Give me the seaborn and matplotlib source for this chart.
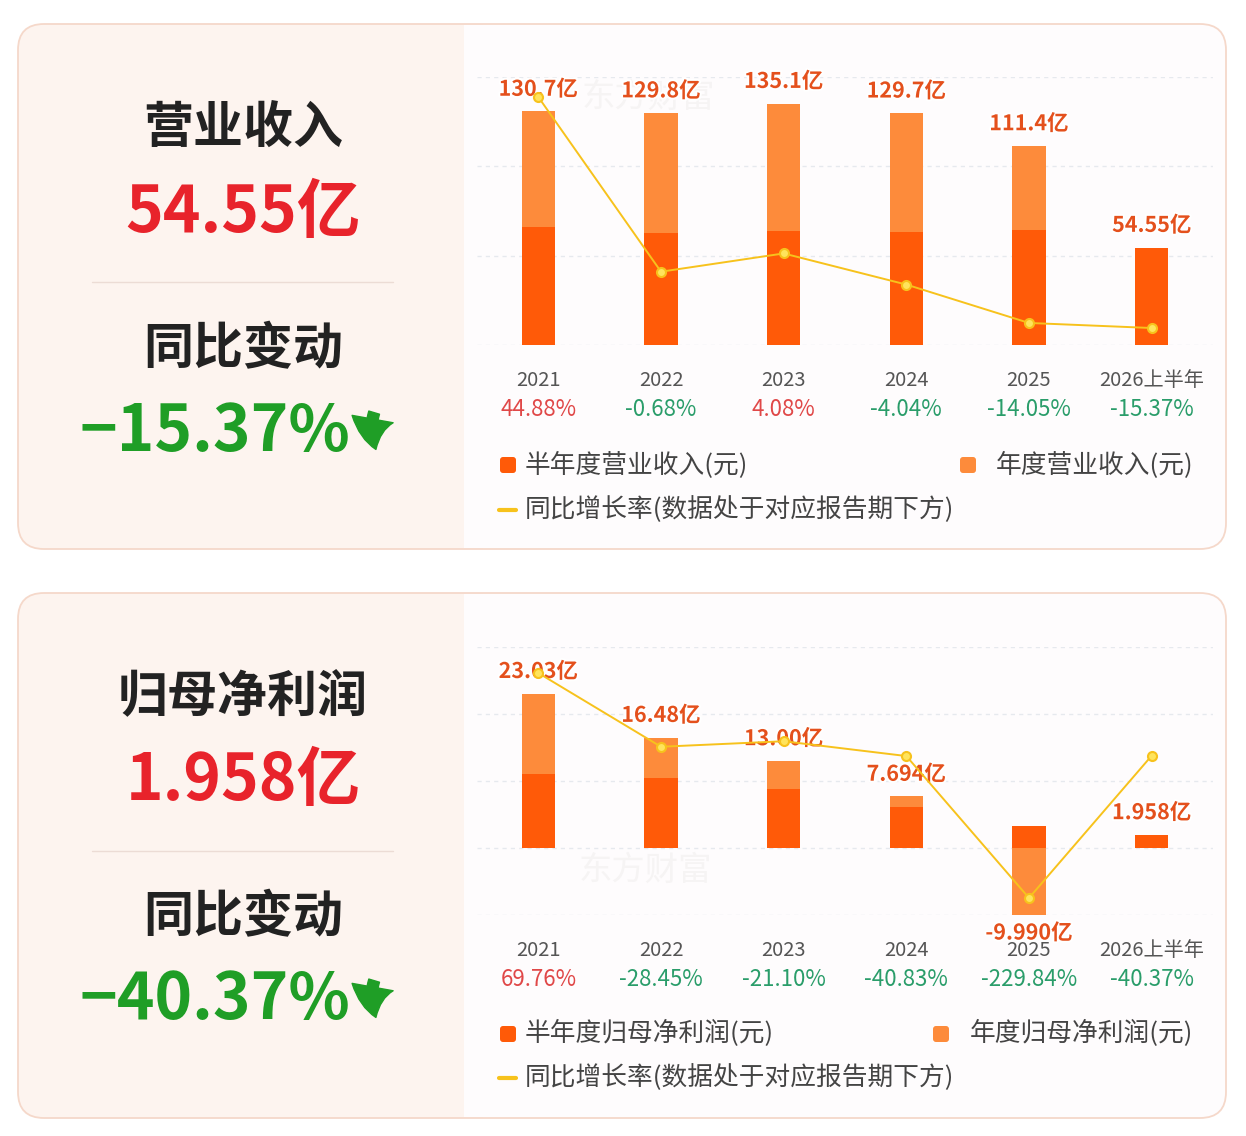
import matplotlib.pyplot as plt
import matplotlib.patheffects as pe
import seaborn as sns
from matplotlib.patches import FancyBboxPatch, Rectangle, FancyArrowPatch
from matplotlib.lines import Line2D

sns.set_style('white')
plt.rcParams['font.family'] = ['Noto Sans CJK SC', 'DejaVu Sans']
plt.rcParams['axes.unicode_minus'] = False

# 数据
periods = ['2021', '2022', '2023', '2024', '2025', '2026上半年']

rev_annual = [130.7, 129.8, 135.1, 129.7, 111.4, 54.55]
rev_half = [66.2, 62.8, 63.9, 63.4, 64.5, 54.55]
rev_growth = [44.88, -0.68, 4.08, -4.04, -14.05, -15.37]
rev_labels = ['130.7亿', '129.8亿', '135.1亿', '129.7亿', '111.4亿', '54.55亿']
rev_growth_labels = ['44.88%', '-0.68%', '4.08%', '-4.04%', '-14.05%', '-15.37%']

np_annual = [23.03, 16.48, 13.00, 7.694, -9.990, 1.958]
np_half = [11.1, 10.5, 8.8, 6.1, 3.3, 1.958]
np_growth = [69.76, -28.45, -21.10, -40.83, -229.84, -40.37]
np_labels = ['23.03亿', '16.48亿', '13.00亿', '7.694亿', '-9.990亿', '1.958亿']
np_growth_labels = ['69.76%', '-28.45%', '-21.10%', '-40.83%', '-229.84%', '-40.37%']

W, H = 1246, 1136
DARK = '#ff5a08'
LIGHT = '#fd8b3b'
YELLOW = '#f7c21c'
LABEL = '#e4501c'
UP = '#e04848'
DOWN = '#2a9d6a'
GREEN = '#1f9e26'

fig = plt.figure(figsize=(W / 100, H / 100), dpi=100)
fig.patch.set_facecolor('white')
tr = fig.dpi_scale_trans


def ix(x):
    return x / 100


def iy(y):
    return (H - y) / 100


def draw_panel(top, bottom):
    # 卡片背景: 左侧浅粉, 右侧近白
    x0, x1, xs = 18, 1226, 464
    h = bottom - top
    fig.patches.append(FancyBboxPatch((ix(x0), iy(bottom)), ix(x1 - x0), h / 100,
                                      boxstyle='round,pad=0,rounding_size=0.26',
                                      fc='#fefcfd', ec='none', transform=tr, zorder=-3))
    fig.patches.append(FancyBboxPatch((ix(x0), iy(bottom)), ix(xs + 40 - x0), h / 100,
                                      boxstyle='round,pad=0,rounding_size=0.26',
                                      fc='#fdf4ef', ec='none', transform=tr, zorder=-2.9))
    fig.patches.append(Rectangle((ix(xs), iy(bottom) + 0.01), ix(45), h / 100 - 0.02,
                                 fc='#fefcfd', ec='none', transform=tr, zorder=-2.8))
    fig.patches.append(FancyBboxPatch((ix(x0), iy(bottom)), ix(x1 - x0), h / 100,
                                      boxstyle='round,pad=0,rounding_size=0.26',
                                      fc='none', ec='#f5d8ca', lw=1.3, transform=tr, zorder=-2.7))


def draw_left(title, value, change, ys):
    fig.text(ix(243), iy(ys[0]), title, transform=tr, ha='center', va='center',
             fontsize=36, fontweight='bold', color='#222222')
    fig.text(ix(243), iy(ys[1]), value, transform=tr, ha='center', va='center',
             fontsize=46, fontweight='bold', color='#e8232b')
    fig.add_artist(Line2D([ix(92), ix(393)], [iy(ys[2]), iy(ys[2])], transform=tr,
                          color='#ecdcd5', lw=1, zorder=-2))
    fig.text(ix(243), iy(ys[3]), '同比变动', transform=tr, ha='center', va='center',
             fontsize=36, fontweight='bold', color='#222222')
    fig.text(ix(350), iy(ys[4]), change, transform=tr, ha='right', va='center',
             fontsize=46, fontweight='bold', color=GREEN)
    fig.patches.append(FancyArrowPatch((ix(375), iy(ys[4] - 22)), (ix(377), iy(ys[4] + 20)),
                                       transform=tr, color=GREEN, mutation_scale=1,
                                       arrowstyle='simple,head_width=30,head_length=22,tail_width=8',
                                       connectionstyle='arc3,rad=0.2', zorder=3))


def draw_chart(rect_px, annual, half, growth, labels, growth_labels,
               ylim, yticks, ylim2, watermark_px, legend_names, legend_y, second_x):
    left, top, right, bottom = rect_px
    ax = fig.add_axes([left / W, 1 - bottom / H, (right - left) / W, (bottom - top) / H])
    ax.patch.set_alpha(0)

    # 水印
    fig.text(ix(watermark_px[0]), iy(watermark_px[1]), '东方财富', transform=tr,
             ha='center', va='center', fontsize=24, color='#f6f4f4', zorder=-1)

    sns.barplot(x=periods, y=annual, color=LIGHT, saturation=1, width=0.27,
                errorbar=None, ax=ax, zorder=2, linewidth=0, edgecolor='none')
    sns.barplot(x=periods, y=half, color=DARK, saturation=1, width=0.27,
                errorbar=None, ax=ax, zorder=3, linewidth=0, edgecolor='none')
    ax.set_xlim(-0.5, len(periods) - 0.5)
    ax.set_ylim(*ylim)
    ax.set_yticks(yticks)
    ax.grid(axis='y', color='#e6e9ee', linestyle=(0, (3, 3)), lw=1)
    ax.set_axisbelow(True)
    ax.set_xlabel('')
    ax.set_ylabel('')
    sns.despine(ax=ax, left=True, bottom=True)

    # 数值标签
    for i, (v, lab) in enumerate(zip(annual, labels)):
        off = 16 if v >= 0 else -13
        ax.annotate(lab, xy=(i, v), xytext=(0, off), textcoords='offset points',
                    ha='center', va='center', fontsize=15.5, fontweight='bold',
                    color=LABEL, zorder=5,
                    path_effects=[pe.withStroke(linewidth=3, foreground='white')])

    # 年份与同比
    span = bottom - top
    for i, (p, g, gl) in enumerate(zip(periods, growth, growth_labels)):
        ax.text(i, -36 / span, p, transform=ax.get_xaxis_transform(), ha='center',
                va='center', fontsize=14.5, color='#555555')
        ax.text(i, -64 / span, gl, transform=ax.get_xaxis_transform(), ha='center',
                va='center', fontsize=16, color=UP if g >= 0 else DOWN)

    # 同比增长率折线
    ax2 = ax.twinx()
    sns.pointplot(x=periods, y=growth, color=YELLOW, ax=ax2, errorbar=None,
                  markers='o', linestyles='-', linewidth=1.4, markersize=6.5,
                  markerfacecolor='#ffe45c', markeredgecolor=YELLOW, markeredgewidth=1.5)
    ax2.set_xlim(-0.5, len(periods) - 0.5)
    ax2.set_ylim(*ylim2)
    ax2.set_ylabel('')
    ax2.set_xlabel('')
    sns.despine(ax=ax2, left=True, bottom=True, right=True)
    for a in (ax, ax2):
        a.tick_params(left=False, right=False, bottom=False, top=False,
                      labelleft=False, labelright=False, labelbottom=False)

    # 图例
    ly1, ly2 = legend_y
    fig.patches.append(FancyBboxPatch((ix(500), iy(ly1 + 8)), 0.16, 0.16,
                                      boxstyle='round,pad=0,rounding_size=0.03',
                                      fc=DARK, ec='none', transform=tr, zorder=3))
    fig.text(ix(525), iy(ly1), legend_names[0], transform=tr, ha='left', va='center',
             fontsize=18.5, color='#444444')
    fig.patches.append(FancyBboxPatch((ix(second_x), iy(ly1 + 8)), 0.16, 0.16,
                                      boxstyle='round,pad=0,rounding_size=0.03',
                                      fc=LIGHT, ec='none', transform=tr, zorder=3))
    fig.text(ix(1193), iy(ly1), legend_names[1], transform=tr, ha='right', va='center',
             fontsize=18.5, color='#444444')
    fig.add_artist(Line2D([ix(499), ix(516)], [iy(ly2), iy(ly2)], transform=tr,
                          color=YELLOW, lw=3))
    fig.text(ix(525), iy(ly2), '同比增长率(数据处于对应报告期下方)', transform=tr,
             ha='left', va='center', fontsize=18.5, color='#444444')
    return ax


# 上: 营业收入
draw_panel(24, 549)
draw_left('营业收入', '54.55亿', '−15.37%', [128, 213, 282, 350, 432])
draw_chart((477, 77, 1213, 345), rev_annual, rev_half, rev_growth, rev_labels,
           rev_growth_labels, (0, 150), [0, 50, 100, 150], (-19.8, 50.1),
           (648, 97), ['半年度营业收入(元)', '年度营业收入(元)'], (465, 510), 960)

# 下: 归母净利润
draw_panel(593, 1118)
draw_left('归母净利润', '1.958亿', '−40.37%', [697, 781, 851, 918, 1000])
draw_chart((477, 647, 1213, 915), np_annual, np_half, np_growth, np_labels,
           np_growth_labels, (-10, 30), [-10, 0, 10, 20, 30], (-252.5, 104.4),
           (645, 870), ['半年度归母净利润(元)', '年度归母净利润(元)'], (1034, 1078), 933)

fig.savefig('out.png', dpi=100, facecolor='white')
